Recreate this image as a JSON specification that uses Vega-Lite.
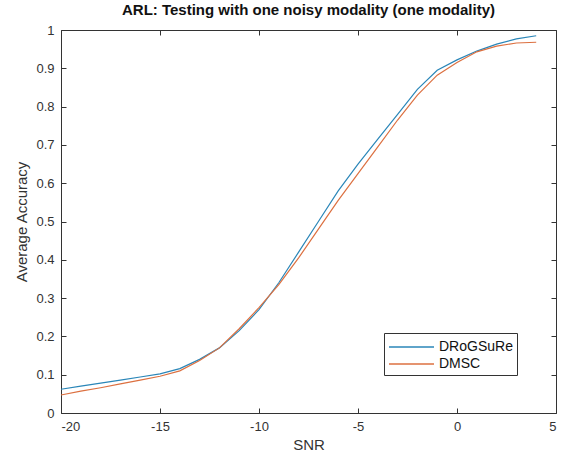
{
  "$schema": "https://vega.github.io/schema/vega-lite/v6.json",
  "autosize": {"type": "none"},
  "width": 495,
  "height": 383,
  "padding": {"left": 61, "top": 30, "right": 6, "bottom": 50},
  "background": "white",
  "title": {"text": "ARL: Testing with one noisy modality (one modality)", "font": "Liberation Sans", "fontSize": 15, "fontWeight": "bold", "color": "#111", "offset": 6, "anchor": "middle"},
  "config": {
    "view": {"stroke": null},
    "axis": {"labelFont": "Liberation Sans", "titleFont": "Liberation Sans", "labelFontSize": 13, "titleFontSize": 15, "titleFontWeight": "normal", "labelColor": "#333", "titleColor": "#333", "domainColor": "#333", "tickColor": "#333", "grid": false, "tickSize": -5, "labelOverlap": false}
  },
  "data": {"values": [
    {"snr": -20, "acc": 0.062, "method": "DRoGSuRe"},
    {"snr": -19, "acc": 0.070, "method": "DRoGSuRe"},
    {"snr": -18, "acc": 0.078, "method": "DRoGSuRe"},
    {"snr": -17, "acc": 0.086, "method": "DRoGSuRe"},
    {"snr": -16, "acc": 0.094, "method": "DRoGSuRe"},
    {"snr": -15, "acc": 0.102, "method": "DRoGSuRe"},
    {"snr": -14, "acc": 0.116, "method": "DRoGSuRe"},
    {"snr": -13, "acc": 0.140, "method": "DRoGSuRe"},
    {"snr": -12, "acc": 0.170, "method": "DRoGSuRe"},
    {"snr": -11, "acc": 0.215, "method": "DRoGSuRe"},
    {"snr": -10, "acc": 0.270, "method": "DRoGSuRe"},
    {"snr": -9, "acc": 0.340, "method": "DRoGSuRe"},
    {"snr": -8, "acc": 0.420, "method": "DRoGSuRe"},
    {"snr": -7, "acc": 0.500, "method": "DRoGSuRe"},
    {"snr": -6, "acc": 0.580, "method": "DRoGSuRe"},
    {"snr": -5, "acc": 0.650, "method": "DRoGSuRe"},
    {"snr": -4, "acc": 0.715, "method": "DRoGSuRe"},
    {"snr": -3, "acc": 0.780, "method": "DRoGSuRe"},
    {"snr": -2, "acc": 0.845, "method": "DRoGSuRe"},
    {"snr": -1, "acc": 0.895, "method": "DRoGSuRe"},
    {"snr": 0, "acc": 0.922, "method": "DRoGSuRe"},
    {"snr": 1, "acc": 0.945, "method": "DRoGSuRe"},
    {"snr": 2, "acc": 0.963, "method": "DRoGSuRe"},
    {"snr": 3, "acc": 0.977, "method": "DRoGSuRe"},
    {"snr": 4, "acc": 0.985, "method": "DRoGSuRe"},
    {"snr": -20, "acc": 0.047, "method": "DMSC"},
    {"snr": -19, "acc": 0.057, "method": "DMSC"},
    {"snr": -18, "acc": 0.066, "method": "DMSC"},
    {"snr": -17, "acc": 0.076, "method": "DMSC"},
    {"snr": -16, "acc": 0.086, "method": "DMSC"},
    {"snr": -15, "acc": 0.096, "method": "DMSC"},
    {"snr": -14, "acc": 0.110, "method": "DMSC"},
    {"snr": -13, "acc": 0.137, "method": "DMSC"},
    {"snr": -12, "acc": 0.170, "method": "DMSC"},
    {"snr": -11, "acc": 0.220, "method": "DMSC"},
    {"snr": -10, "acc": 0.275, "method": "DMSC"},
    {"snr": -9, "acc": 0.335, "method": "DMSC"},
    {"snr": -8, "acc": 0.405, "method": "DMSC"},
    {"snr": -7, "acc": 0.480, "method": "DMSC"},
    {"snr": -6, "acc": 0.555, "method": "DMSC"},
    {"snr": -5, "acc": 0.625, "method": "DMSC"},
    {"snr": -4, "acc": 0.695, "method": "DMSC"},
    {"snr": -3, "acc": 0.765, "method": "DMSC"},
    {"snr": -2, "acc": 0.830, "method": "DMSC"},
    {"snr": -1, "acc": 0.882, "method": "DMSC"},
    {"snr": 0, "acc": 0.915, "method": "DMSC"},
    {"snr": 1, "acc": 0.943, "method": "DMSC"},
    {"snr": 2, "acc": 0.958, "method": "DMSC"},
    {"snr": 3, "acc": 0.966, "method": "DMSC"},
    {"snr": 4, "acc": 0.968, "method": "DMSC"}
  ]},
  "layer": [
    {
      "mark": {"type": "line", "strokeWidth": 1.2},
      "encoding": {
        "x": {"field": "snr", "type": "quantitative", "scale": {"domain": [-20, 5], "nice": false}, "axis": {"title": "SNR", "values": [-20, -15, -10, -5, 0, 5], "labelExpr": "replace(format(datum.value, 'd'), '−', '-')", "labelPadding": 12, "titlePadding": 4}},
        "y": {"field": "acc", "type": "quantitative", "scale": {"domain": [0, 1], "nice": false}, "axis": {"title": "Average Accuracy", "values": [0, 0.1, 0.2, 0.3, 0.4, 0.5, 0.6, 0.7, 0.8, 0.9, 1], "format": ".1~f", "labelPadding": 12, "titlePadding": 6}},
        "color": {"field": "method", "type": "nominal", "scale": {"domain": ["DRoGSuRe", "DMSC"], "range": ["#2a86b8", "#dc7040"]},
          "legend": {"title": null, "orient": "none", "legendX": 323, "legendY": 303, "symbolType": "M-1,0H4", "symbolSize": 324, "symbolStrokeWidth": 1.5, "symbolOffset": 0, "labelFont": "Liberation Sans", "labelFontSize": 14, "labelColor": "#111", "labelOffset": 31, "strokeColor": "#333", "fillColor": "white", "padding": 4, "rowPadding": 0}}
      }
    },
    {
      "mark": {"type": "rule", "opacity": 0},
      "encoding": {
        "x": {"field": "snr", "type": "quantitative", "scale": {"domain": [-20, 5], "nice": false}, "axis": {"orient": "top", "title": null, "labels": false, "values": [-20, -15, -10, -5, 0, 5]}},
        "y": {"field": "acc", "type": "quantitative", "scale": {"domain": [0, 1], "nice": false}, "axis": {"orient": "right", "title": null, "labels": false, "values": [0, 0.1, 0.2, 0.3, 0.4, 0.5, 0.6, 0.7, 0.8, 0.9, 1]}}
      }
    }
  ],
  "resolve": {"axis": {"x": "independent", "y": "independent"}}
}
